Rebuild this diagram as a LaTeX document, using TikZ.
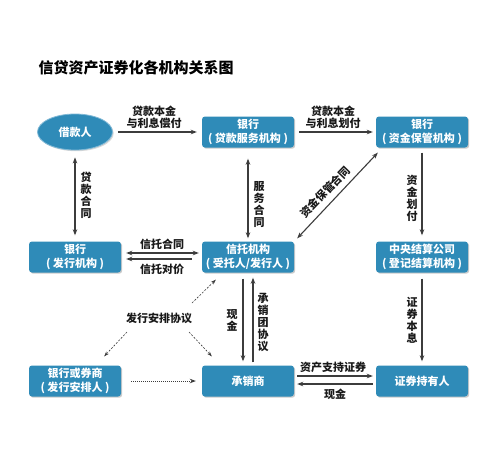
\documentclass[tikz,border=0pt]{standalone}
\usepackage{fontspec}
\setmainfont{Noto Sans CJK SC}
\usetikzlibrary{arrows.meta,shapes.geometric,shadows}
\definecolor{boxblue}{HTML}{2F8BB8}
\definecolor{rimblue}{HTML}{7FB8D6}
\definecolor{linegray}{HTML}{3C3C3C}
\begin{document}
\begin{tikzpicture}[x=1pt,y=-1pt,
  box/.style={rectangle, rounded corners=3pt, fill=boxblue, text=white,
    minimum width=92pt, minimum height=31pt, inner sep=0pt, align=center,
    font=\bfseries\fontsize{11}{14}\selectfont,
    drop shadow={shadow xshift=1.2pt,shadow yshift=-1.2pt,fill=black!40}},
  lab/.style={font=\bfseries\fontsize{11}{12}\selectfont, text=black!90,
    align=center, inner sep=0pt},
  arr/.style={draw=linegray, line width=1.1pt, -{Stealth[length=6pt,width=4.5pt]}},
  darr/.style={draw=linegray, line width=1.1pt,
    {Stealth[length=6pt,width=4.5pt]}-{Stealth[length=6pt,width=4.5pt]}},
  dsh/.style={draw=linegray, line width=0.6pt, dash pattern=on 2pt off 1.5pt,
    -{Stealth[length=5pt,width=3.5pt]}},
  dotarr/.style={draw=linegray, line width=0.9pt, dash pattern=on 1pt off 1pt,
    -{Stealth[length=6pt,width=4.5pt]}}
]
\useasboundingbox (0,0) rectangle (500,448);
\fill[white] (0,0) rectangle (500,448);

\node[font=\bfseries\fontsize{15}{18}\selectfont, inner sep=0pt] (title) at (136,68) {信贷资产证券化各机构关系图};

\node[ellipse, fill=boxblue, draw=rimblue, line width=0.8pt, minimum width=75pt,
  minimum height=36pt, inner sep=0pt, text=white,
  font=\bfseries\fontsize{11}{14}\selectfont,
  drop shadow={shadow xshift=1.2pt,shadow yshift=-1.2pt,fill=black!30}] (borrower) at (75,132) {借款人};
\node[box] (bank1) at (248,132) {银行\\( 贷款服务机构 )};
\node[box] (bank2) at (422,132) {银行\\( 资金保管机构 )};
\node[box] (issuer) at (75,257) {银行\\( 发行机构 )};
\node[box] (trust) at (248,257) {信托机构\\( 受托人/发行人 )};
\node[box] (csd) at (422,257) {中央结算公司\\( 登记结算机构 )};
\node[box] (arranger) at (75,381) {银行或券商\\( 发行安排人 )};
\node[box] (under) at (248,381) {承销商};
\node[box] (holder) at (422,381) {证券持有人};

% top row
\draw[arr] ([xshift=5pt]borrower.east) -- ([xshift=-5pt]bank1.west);
\node[lab] at (154,117) {贷款本金\\与利息偿付};
\draw[arr] ([xshift=5pt]bank1.east) -- ([xshift=-3pt]bank2.west);
\node[lab] at (333,117) {贷款本金\\与利息划付};

% verticals top
\draw[darr] ([yshift=6pt]issuer.north) -- ([yshift=-7pt]borrower.south);
\node[lab] at (86,195) {贷\\款\\合\\同};
\draw[darr] ([yshift=-11pt]bank1.south) -- ([yshift=3pt]trust.north);
\node[lab] at (259,205) {服\\务\\合\\同};
\draw[darr] ([shift={(3pt,3pt)}]trust.north east) -- ([shift={(2pt,-5pt)}]bank2.south west);
\node[lab, rotate=46] at (325,192) {资金保管合同};
\draw[arr] ([yshift=-5pt]bank2.south) -- ([yshift=6pt]csd.north);
\node[lab] at (412,198) {资\\金\\划\\付};

% middle row
\draw[darr] ([shift={(5pt,4pt)}]issuer.east) -- ([shift={(-3pt,4pt)}]trust.west);
\draw[arr] ([shift={(-10pt,-2pt)}]trust.west) -- ([shift={(5pt,-2pt)}]issuer.east);
\node[lab] at (162,244) {信托合同};
\node[lab] at (162,269) {信托对价};

% verticals bottom
\draw[arr] ([shift={(-5pt,-6pt)}]trust.south) -- ([shift={(-5pt,4pt)}]under.north);
\draw[arr] ([shift={(5pt,3pt)}]under.north) -- ([shift={(5pt,-5pt)}]trust.south);
\node[lab] at (232,320) {现\\金};
\node[lab] at (263,322) {承\\销\\团\\协\\议};
\draw[arr] ([yshift=-6pt]csd.south) -- ([yshift=4pt]holder.north);
\node[lab] at (412,320) {证\\券\\本\\息};

% bottom row
\draw[arr] ([shift={(3pt,5pt)}]under.east) -- ([shift={(-3pt,5pt)}]holder.west);
\draw[arr] ([shift={(-3pt,-3pt)}]holder.west) -- ([shift={(3pt,-3pt)}]under.east);
\node[lab] at (333,367) {资产支持证券};
\node[lab] at (335,394) {现金};
\draw[dotarr] ([xshift=10pt]arranger.east) -- ([xshift=-6pt]under.west);

% issuance arrangement agreement
\node[lab] (agree) at (159,318) {发行安排协议};
\coordinate (a1) at (192,303);
\coordinate (a2) at (127,332);
\coordinate (a3) at (189,332);
\draw[dsh] (a1) -- ([shift={(14pt,-7pt)}]trust.south west);
\draw[dsh] (a2) -- ([shift={(-17pt,9pt)}]arranger.north east);
\draw[dsh] (a3) -- ([shift={(10pt,9pt)}]under.north west);
\end{tikzpicture}
\end{document}
